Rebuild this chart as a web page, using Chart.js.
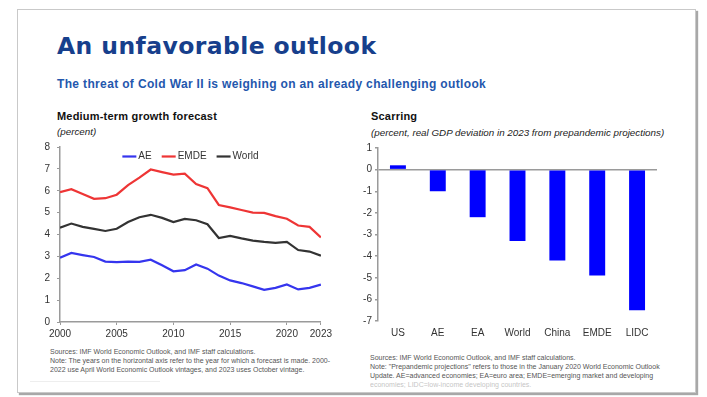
<!DOCTYPE html>
<html>
<head>
<meta charset="utf-8">
<script src="https://cdn.jsdelivr.net/npm/chart.js@4"></script>
<style>
  html, body { margin: 0; padding: 0; background: #fff; }
  body { width: 707px; height: 397px; position: relative; overflow: hidden; font-family: "Liberation Sans", Arial, sans-serif; }
  .slide { position: absolute; left: 17px; top: 9px; width: 677px; height: 382px; border: 1px solid #c9c9c9; box-shadow: 2px 2px 1px #a8a8a8; background: #fff; }
  .t { position: absolute; white-space: nowrap; line-height: 1; }
  .title { left: 57px; top: 35px; font-family: "DejaVu Sans", sans-serif; font-weight: bold; font-size: 23.5px; letter-spacing: 0.4px; color: #173f8c; }
  .sub { left: 57px; top: 78px; font-weight: bold; font-size: 12px; letter-spacing: 0.35px; color: #2457ad; }
  .ct { font-weight: bold; font-size: 11px; letter-spacing: 0.2px; color: #111; top: 110.5px; }
  .cs { font-style: italic; font-size: 9.8px; color: #222; }
  .note { position: absolute; font-size: 7px; line-height: 9px; color: #555; white-space: nowrap; }
  canvas { position: absolute; }
</style>
</head>
<body>
<div class="slide"></div>

<div class="t title">An unfavorable outlook</div>
<div class="t sub">The threat of Cold War II is weighing on an already challenging outlook</div>

<div class="t ct" style="left:57px">Medium-term growth forecast</div>
<div class="t cs" style="left:57px; top:127px">(percent)</div>
<div class="t ct" style="left:371px">Scarring</div>
<div class="t cs" style="left:371px; top:128px">(percent, real GDP deviation in 2023 from prepandemic projections)</div>

<div style="position:absolute; left:20px; top:134px; width:315px; height:212px;"><canvas id="growthChart"></canvas></div>
<div style="position:absolute; left:340px; top:139px; width:330px; height:206px;"><canvas id="scarChart"></canvas></div>

<div class="note" style="left:50px; top:346.5px">Sources: IMF World Economic Outlook, and IMF staff calculations.<br>Note: The years on the horizontal axis refer to the year for which a forecast is made. 2000-<br>2022 use April World Economic Outlook vintages, and 2023 uses October vintage.</div>
<div class="note" style="left:370px; top:352.5px">Sources: IMF World Economic Outlook, and IMF staff calculations.<br>Note: "Prepandemic projections" refers to those in the January 2020 World Economic Outlook<br>Update. AE=advanced economies; EA=euro area; EMDE=emerging market and developing<br><span style="opacity:0.35">economies; LIDC=low-income developing countries.</span></div>
<div style="position:absolute; left:30px; top:381px; width:130px; height:1px; background:#eee;"></div>

<script>
// 資料
const years = [2000, 2001, 2002, 2003, 2004, 2005, 2006, 2007, 2008, 2009, 2010, 2011,
               2012, 2013, 2014, 2015, 2016, 2017, 2018, 2019, 2020, 2021, 2022, 2023];
const aeGrowth = [2.94, 3.16, 3.06, 2.97, 2.76, 2.74, 2.76, 2.75, 2.85, 2.59, 2.32, 2.37,
                  2.63, 2.44, 2.12, 1.90, 1.78, 1.63, 1.47, 1.56, 1.72, 1.49, 1.56, 1.71];
const emdeGrowth = [5.94, 6.07, 5.85, 5.63, 5.66, 5.82, 6.26, 6.60, 6.97, 6.85, 6.74, 6.78,
                    6.31, 6.12, 5.35, 5.24, 5.12, 5.00, 4.99, 4.84, 4.72, 4.41, 4.35, 3.87];
const worldGrowth = [4.31, 4.50, 4.35, 4.26, 4.16, 4.26, 4.57, 4.79, 4.90, 4.76, 4.57, 4.71,
                     4.65, 4.47, 3.84, 3.94, 3.82, 3.72, 3.66, 3.62, 3.66, 3.29, 3.22, 3.03];
const yearTicks = [2000, 2005, 2010, 2015, 2020, 2023];

const scarCategories = ['US', 'AE', 'EA', 'World', 'China', 'EMDE', 'LIDC'];
const scarValues = [0.2, -1.0, -2.2, -3.3, -4.2, -4.9, -6.5];

const tickFont = { family: '"Liberation Sans", Arial, sans-serif', size: 10 };
const axisGray = '#9a9a9a';

// 圖例畫在繪圖區內上方
const innerLegend = {
    id: 'innerLegend',
    afterDraw(chart) {
        const { ctx, chartArea } = chart;
        const items = chart.data.datasets;
        ctx.save();
        ctx.font = '10px "Liberation Sans", Arial, sans-serif';
        const lineW = 14, gap = 2, pad = 10;
        let total = 0;
        items.forEach((d, i) => {
            total += lineW + gap + ctx.measureText(d.label).width + (i < items.length - 1 ? pad : 0);
        });
        let x = (chartArea.left + chartArea.right) / 2 - total / 2;
        const y = chartArea.top + 9.5;
        ctx.textBaseline = 'middle';
        items.forEach(d => {
            ctx.strokeStyle = d.borderColor;
            ctx.lineWidth = 2.2;
            ctx.beginPath();
            ctx.moveTo(x, y);
            ctx.lineTo(x + lineW, y);
            ctx.stroke();
            x += lineW + gap;
            ctx.fillStyle = '#333';
            ctx.fillText(d.label, x, y);
            x += ctx.measureText(d.label).width + pad;
        });
        ctx.restore();
    }
};

const toPoints = vals => years.map((yr, i) => ({ x: yr, y: vals[i] }));

new Chart(document.getElementById('growthChart'), {
    type: 'line',
    data: {
        datasets: [
            { label: 'AE', data: toPoints(aeGrowth), borderColor: '#3535ee', borderWidth: 2.2 },
            { label: 'EMDE', data: toPoints(emdeGrowth), borderColor: '#ee3535', borderWidth: 2.2 },
            { label: 'World', data: toPoints(worldGrowth), borderColor: '#333333', borderWidth: 2.2 }
        ]
    },
    options: {
        responsive: true,
        maintainAspectRatio: false,
        animation: false,
        elements: { point: { radius: 0 }, line: { tension: 0 } },
        layout: { padding: { top: 7.7, right: 12, left: 0, bottom: 0 } },
        plugins: { legend: { display: false }, tooltip: { enabled: false } },
        scales: {
            x: {
                type: 'linear',
                min: 2000,
                max: 2023,
                afterBuildTicks: axis => { axis.ticks = yearTicks.map(v => ({ value: v })); },
                afterFit: scale => { scale.height = 24; },
                ticks: { font: tickFont, color: '#333', padding: 3, maxRotation: 0, callback: v => String(v) },
                grid: { drawOnChartArea: false, tickLength: 3, color: axisGray },
                border: { color: axisGray, width: 1.5 }
            },
            y: {
                min: 0,
                max: 8,
                afterFit: scale => { scale.width = 40; },
                ticks: { stepSize: 1, font: tickFont, color: '#333', padding: 7 },
                grid: { drawOnChartArea: false, tickLength: 3, color: axisGray },
                border: { color: axisGray, width: 1.5 }
            }
        }
    },
    plugins: [innerLegend]
});

new Chart(document.getElementById('scarChart'), {
    type: 'bar',
    data: {
        labels: scarCategories,
        datasets: [{
            label: 'Scarring',
            data: scarValues,
            backgroundColor: '#0000ff',
            barPercentage: 0.4,
            categoryPercentage: 1
        }]
    },
    options: {
        responsive: true,
        maintainAspectRatio: false,
        animation: false,
        layout: { padding: { top: 6.7, right: 13, left: 0, bottom: 0 } },
        plugins: { legend: { display: false }, tooltip: { enabled: false } },
        scales: {
            x: {
                afterFit: scale => { scale.height = 24; },
                ticks: { font: tickFont, color: '#333', padding: 6, maxRotation: 0 },
                grid: { display: false, drawTicks: false },
                border: { display: false }
            },
            y: {
                min: -7,
                max: 1,
                afterFit: scale => { scale.width = 38; },
                ticks: { stepSize: 1, font: tickFont, color: '#333', padding: 3 },
                grid: {
                    tickLength: 3,
                    tickColor: axisGray,
                    color: c => (c.tick && c.tick.value === 0 ? axisGray : 'rgba(0,0,0,0)'),
                    lineWidth: 1.5
                },
                border: { color: axisGray, width: 1.5 }
            }
        }
    }
});
</script>
</body>
</html>
